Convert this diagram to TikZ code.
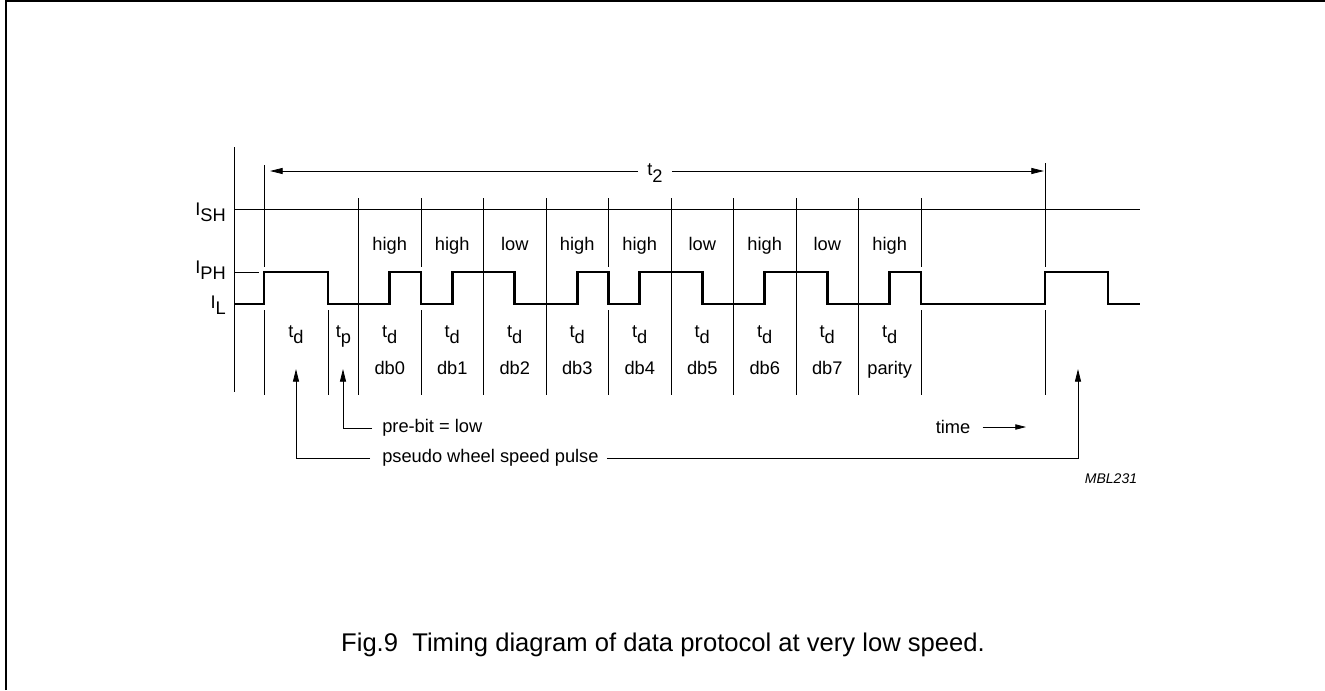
\documentclass[tikz,border=0pt]{standalone}
\usepackage{fontspec}
\setmainfont{Liberation Sans}
\usetikzlibrary{arrows.meta,calc}
\newcommand\lowsub[1]{\raisebox{-0.37em}{#1}}
\begin{document}
\begin{tikzpicture}[x=0.75pt,y=-0.75pt,
  thinline/.style={line width=0.6pt},
  wave/.style={line width=2.2pt, line join=miter},
  lab/.style={inner sep=0pt, font=\fontsize{13.7pt}{16pt}\selectfont},
  arr/.style={thinline, -{Triangle[length=9.5pt,width=4.5pt]}},
  smallarr/.style={thinline, -{Triangle[length=8pt,width=4pt]}}]
\useasboundingbox (0,0) rectangle (1325,690);
% frame
\draw[line width=1.5pt] (5.5,690) -- (5.5,1) -- (1325,1);
% axis and levels
\draw[thinline] (234,147) -- (234,392);
\draw[thinline] (234,209) -- (1140,209);
\draw[thinline] (234,272) -- (259,272);
\node[lab,anchor=base east] (ISH) at (226,215) {I\lowsub{SH}};
\node[lab,anchor=base east] (IPH) at (226,273) {I\lowsub{PH}};
\node[lab,anchor=base east] (IL) at (226,308) {I\lowsub{L}};
% dividers without coinciding edge
\foreach \x in {358.5,483.5,546,671,733.5,796,858.5}
  \draw[thinline] (\x,198) -- (\x,395);
% dividers at an edge
\foreach \x in {421,608.5,921}
  {\draw[thinline] (\x,198) -- (\x,267); \draw[thinline] (\x,310) -- (\x,395);}
\draw[thinline] (264,165) -- (264,267); \draw[thinline] (264,310) -- (264,395);
\draw[thinline] (1045,163) -- (1045,267); \draw[thinline] (1045,310) -- (1045,395);
\draw[thinline] (328,310) -- (328,395);
% waveform
\draw[wave] (234,304) -- (264,304) -- (264,272) -- (328,272) -- (328,304)
  -- (389.75,304) -- (389.75,272) -- (421,272) -- (421,304)
  -- (452.25,304) -- (452.25,272) -- (514.75,272) -- (514.75,304)
  -- (577.25,304) -- (577.25,272) -- (608.5,272) -- (608.5,304)
  -- (639.75,304) -- (639.75,272) -- (702.25,272) -- (702.25,304)
  -- (764.75,304) -- (764.75,272) -- (827.25,272) -- (827.25,304)
  -- (889.75,304) -- (889.75,272) -- (921,272) -- (921,304)
  -- (1045,304) -- (1045,272) -- (1108,272) -- (1108,304) -- (1140,304);
% t2
\coordinate (t2L) at (270,171);
\coordinate (t2R) at (1044,171);
\node[lab,anchor=base] (t2) at (655,175.6) {t\lowsub{2}};
\draw[arr] ($(t2.west|-t2L)+(-9,0)$) -- (t2L);
\draw[arr] ($(t2.east|-t2R)+(9,0)$) -- (t2R);
% cell labels
\node[lab,anchor=base] (td0) at (296,337) {t\lowsub{d}};
\node[lab,anchor=base] (tp) at (343.5,337) {t\lowsub{p}};
\foreach \x/\h/\db [count=\i] in {389.75/high/db0, 452.25/high/db1, 514.75/low/db2,
    577.25/high/db3, 639.75/high/db4, 702.25/low/db5, 764.75/high/db6,
    827.25/low/db7, 889.75/high/parity}
  {\node[lab,anchor=base] (hl\i) at (\x,250) {\h};
   \node[lab,anchor=base] (td\i) at (\x,337) {t\lowsub{d}};
   \node[lab,anchor=base] (db\i) at (\x,374) {\db};}
% annotation arrows
\coordinate (tdTip) at (296,369);
\coordinate (tpTip) at (343,369);
\coordinate (rTip) at (1078,369);
\node[lab,anchor=west] (prebit) at (382,428) {pre-bit = low};
\node[lab,anchor=west] (pseudo) at (382,458) {pseudo wheel speed pulse};
\draw[arr] ($(prebit.west)+(-10,0)$) -| (tpTip);
\draw[arr] ($(pseudo.west)+(-12,0)$) -| (tdTip);
\draw[arr] ($(pseudo.east)+(8,0)$) -| (rTip);
\node[lab] (time) at (953,427) {time};
\coordinate (timeEnd) at (1026,427);
\draw[smallarr] ($(time.east)+(12,0)$) -- (timeEnd);
\node[inner sep=0pt,font=\fontsize{10.5pt}{12pt}\selectfont\itshape] (mbl) at (1111,479) {MBL231};
% caption
\node[inner sep=0pt,anchor=base,font=\fontsize{19.2pt}{22pt}\selectfont] (cap) at (663,651)
  {Fig.9\hspace{0.556em}Timing diagram of data protocol at very low speed.};
\end{tikzpicture}
\end{document}
